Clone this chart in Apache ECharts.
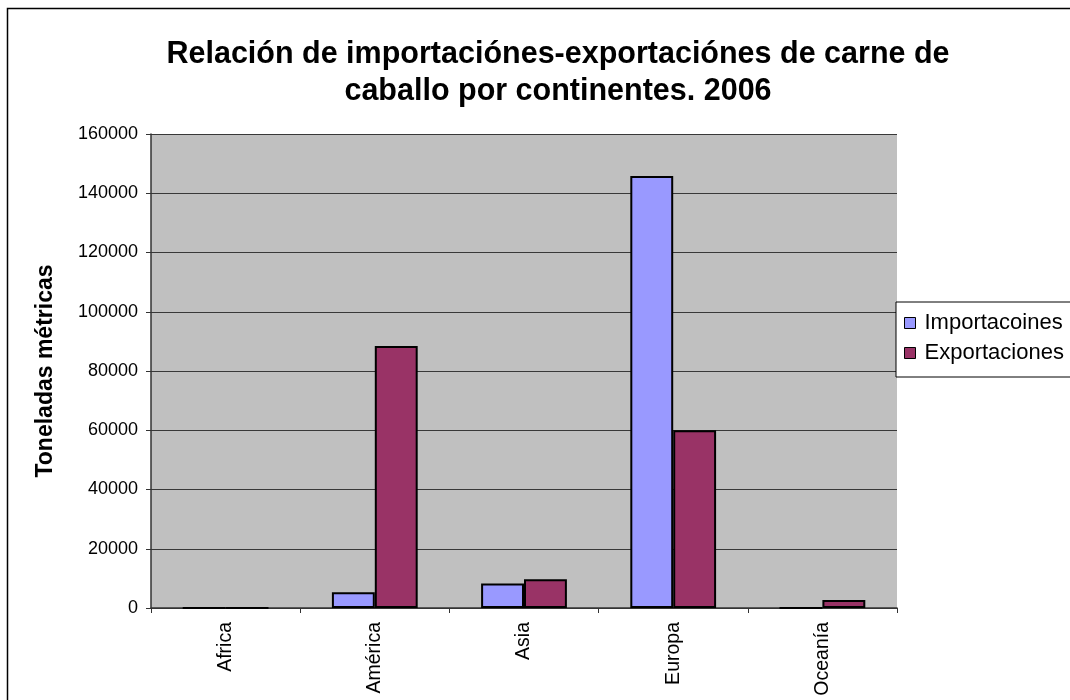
<!DOCTYPE html>
<html>
<head>
<meta charset="utf-8">
<script src="https://cdn.jsdelivr.net/npm/echarts@6/dist/echarts.min.js"></script>
<style>
  html, body { margin: 0; padding: 0; background: #ffffff; }
  #chart { width: 1070px; height: 700px; }
</style>
</head>
<body>
<div id="chart"></div>
<script>
// Continents on the category axis
const continents = ['Africa', 'América', 'Asia', 'Europa', 'Oceanía'];
// Horse meat trade by continent, 2006 (metric tonnes)
const importaciones = [0, 5300, 8300, 145800, 0];
const exportaciones = [0, 88400, 9700, 60000, 2700];
// Value axis range
const yMin = 0;
const yMax = 160000;
const yStep = 20000;

const FONT = '"Liberation Sans", Arial, sans-serif';

const chart = echarts.init(document.getElementById('chart'), null, { renderer: 'canvas' });

chart.setOption({
  backgroundColor: '#ffffff',
  animation: false,
  title: {
    text: 'Relación de importaciónes-exportaciónes de carne de\ncaballo por continentes. 2006',
    left: 553,
    top: 31,
    textAlign: 'center',
    textStyle: {
      fontFamily: FONT,
      fontWeight: 'bold',
      fontSize: 30.5,
      lineHeight: 37,
      color: '#000000'
    }
  },
  graphic: [{
    type: 'rect',
    shape: { x: 7.5, y: 8.5, width: 1120, height: 760 },
    style: { fill: 'none', stroke: '#000000', lineWidth: 1.5 },
    silent: true,
    z: 100
  }],
  legend: {
    orient: 'vertical',
    left: 896,
    top: 302,
    padding: [10, 10, 13, 8],
    itemGap: 8,
    itemWidth: 11,
    itemHeight: 11,
    icon: 'rect',
    backgroundColor: '#ffffff',
    borderColor: '#000000',
    borderWidth: 1,
    borderRadius: 0,
    itemStyle: { borderColor: '#000000', borderWidth: 1 },
    textStyle: {
      fontFamily: FONT,
      fontSize: 22,
      lineHeight: 22,
      color: '#000000',
      padding: [0, 0, 0, 4]
    },
    data: ['Importacoines', 'Exportaciones']
  },
  grid: {
    left: 151,
    top: 134,
    right: 173,
    bottom: 92,
    show: true,
    backgroundColor: '#c0c0c0',
    borderWidth: 0
  },
  xAxis: {
    type: 'category',
    data: continents,
    boundaryGap: true,
    axisLine: { lineStyle: { color: '#333333', width: 1.5 } },
    axisTick: { show: true, length: 5, lineStyle: { color: '#333333', width: 1 } },
    axisLabel: {
      rotate: 90,
      margin: 14,
      fontFamily: FONT,
      fontSize: 19.5,
      color: '#000000'
    },
    splitLine: { show: false }
  },
  yAxis: {
    type: 'value',
    min: yMin,
    max: yMax,
    interval: yStep,
    name: 'Toneladas métricas',
    nameLocation: 'middle',
    nameRotate: 90,
    nameGap: 94,
    nameTextStyle: {
      fontFamily: FONT,
      fontWeight: 'bold',
      fontSize: 23,
      color: '#000000'
    },
    axisLine: { show: true, lineStyle: { color: '#333333', width: 1.5 } },
    axisTick: { show: true, length: 5, lineStyle: { color: '#333333', width: 1 } },
    axisLabel: {
      margin: 13,
      fontFamily: FONT,
      fontSize: 18,
      color: '#000000',
      formatter: function (v) { return String(v); }
    },
    splitLine: { show: true, lineStyle: { color: '#383838', width: 1 } }
  },
  series: [
    {
      name: 'Importacoines',
      type: 'bar',
      data: importaciones,
      barGap: '0%',
      barCategoryGap: '42.5%',
      itemStyle: { color: '#9999ff', borderColor: '#000000', borderWidth: 2 }
    },
    {
      name: 'Exportaciones',
      type: 'bar',
      data: exportaciones,
      barGap: '0%',
      barCategoryGap: '42.5%',
      itemStyle: { color: '#993366', borderColor: '#000000', borderWidth: 2 }
    }
  ]
});
</script>
</body>
</html>
